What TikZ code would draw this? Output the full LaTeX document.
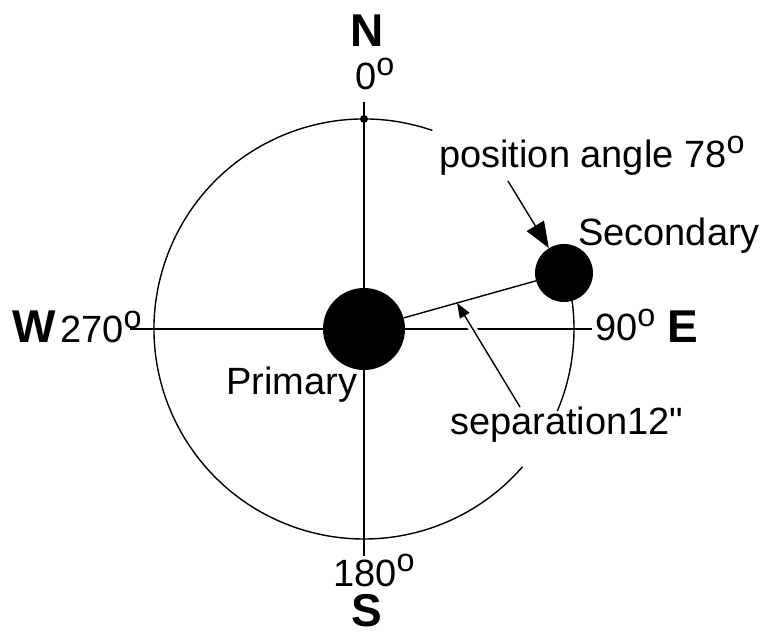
\documentclass[tikz,border=0pt]{standalone}
\usepackage{fontspec}
\setmainfont{Liberation Sans}
\usetikzlibrary{arrows.meta,calc}
\newcommand{\dg}{\raisebox{.38em}{\scalebox{.85}{o}}}
\newcommand{\secs}{\XeTeXglyph\XeTeXcharglyph"22\relax}

\begin{document}
\begin{tikzpicture}[x=1pt,y=1pt,
  lbl/.style={font=\fontsize{38}{40}\selectfont, inner sep=0pt, anchor=base west},
  dirlbl/.style={font=\bfseries\fontsize{46}{50}\selectfont, inner sep=0pt, anchor=base west},
  star/.style={circle, fill=black, inner sep=0pt},
  thinline/.style={line width=1.4pt}]
\useasboundingbox (0,0) rectangle (768,632);
% circle of position angles
\coordinate (c) at (364,303);
\draw[thinline] (c) ++(71:210pt) arc[start angle=71, end angle=319, radius=210pt];
\draw[thinline] (c) ++(-23:210pt) arc[start angle=-23, end angle=16, radius=210pt];
% axes
\coordinate (ntop) at (364,530);
\coordinate (sbot) at (364,76);
\coordinate (wend) at (130,303);
\coordinate (eend) at (592,303);
\draw[thinline] (ntop) -- (sbot);
\draw[thinline] (wend) -- (eend);
\node[star, minimum size=8pt] (ndot) at (364,513) {};
% the pair
\node[star, minimum size=82pt] (prim) at (c) {};
\node[star, minimum size=58pt] (sec) at (564,359) {};
\draw[thinline] (prim) -- (sec);
% arrows
\coordinate (pastart) at (508,451);
\draw[thinline, -{Triangle[length=26pt,width=20pt]}] (pastart) -- (sec);
\coordinate (sepstart) at (520,225);
\coordinate (septip) at ($(prim.center)!0.465!(sec.center)$);
\draw[white, line width=8pt, shorten >=18pt, shorten <=4pt] (sepstart) -- (septip);
\draw[thinline, -{Triangle[length=15pt,width=11pt]}] (sepstart) -- (septip);
% labels
\node[dirlbl] (nlbl) at (350,585) {N};
\node[lbl] (n0) at (355,542) {0\dg};
\node[lbl] (s180) at (333,46) {180\dg};
\node[dirlbl] (slbl) at (351,6) {S};
\node[dirlbl] (wlbl) at (12,289) {W};
\node[lbl] (w270) at (60,289) {270\dg};
\node[lbl] (e90) at (595,291) {90\dg};
\node[dirlbl] (elbl) at (667,289) {E};
\node[lbl] (plbl) at (226,237) {Primary};
\node[lbl] (seclbl) at (578,386) {Secondary};
\node[lbl] (palbl) at (439,464) {position angle 78\dg};
\node[lbl] (seplbl) at (450,197) {separation12\secs};
\end{tikzpicture}
\end{document}
